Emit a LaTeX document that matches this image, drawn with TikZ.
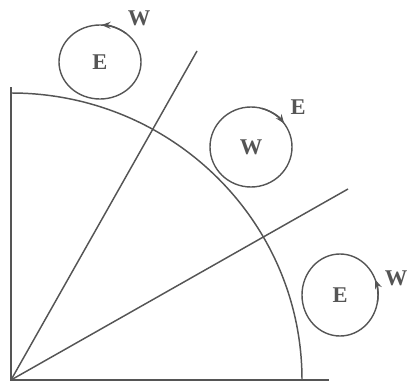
\documentclass[tikz,border=0pt]{standalone}
\usepackage{fontspec}
\setmainfont{Liberation Serif}
\usetikzlibrary{arrows.meta}
\definecolor{inkGray}{HTML}{555555}
\definecolor{labelGray}{HTML}{555555}
\tikzset{
  axis line/.style={draw=inkGray,line width=1.05pt},
  vortex ring/.style={draw=inkGray,line width=1pt},
  spin/.style={draw=inkGray,line width=1pt,-{Stealth[length=6.5pt,width=5pt]}},
  eddy label/.style={font=\fontsize{16}{18}\selectfont\bfseries,text=labelGray,inner sep=0pt}
}

\begin{document}
\begin{tikzpicture}[x=0.025cm,y=0.025cm]
\useasboundingbox (0,0) rectangle (407,383);

% Quadrant: axes, rays and arc
\coordinate (O) at (11,3);
\coordinate (yTop) at (11,296);
\coordinate (xEnd) at (329,3);
\coordinate (rayA) at (197,332);
\coordinate (rayB) at (348,194);
\draw[axis line] (yTop) -- (O) -- (xEnd);
\draw[axis line] (O) -- (rayA);
\draw[axis line] (O) -- (rayB);
\draw[axis line] (O) ++(90:291 and 287)
  arc[start angle=90,end angle=0,x radius=291,y radius=287];

% Eddy above the arc
\node[eddy label] (eddyA) at (100,321) {E};
\node[eddy label] (windA) at (139,365) {W};
\draw[vortex ring] (eddyA.center) ellipse[x radius=41,y radius=37];
\draw[spin] (eddyA.center) ++(50:41 and 37)
  arc[start angle=50,end angle=88,x radius=41,y radius=37];

% Eddy between the rays
\node[eddy label] (eddyB) at (251,236) {W};
\node[eddy label] (windB) at (298,276) {E};
\draw[vortex ring] (eddyB.center) ellipse[x radius=41,y radius=40];
\draw[spin] (eddyB.center) ++(75:41 and 40)
  arc[start angle=75,end angle=36,x radius=41,y radius=40];

% Eddy below the lower ray
\node[eddy label] (eddyC) at (340,88) {E};
\node[eddy label] (windC) at (396,105) {W};
\draw[vortex ring] (eddyC.center) ellipse[x radius=38,y radius=41];
\draw[spin] (eddyC.center) ++(-10:38 and 41)
  arc[start angle=-10,end angle=22,x radius=38,y radius=41];

\end{tikzpicture}
\end{document}
